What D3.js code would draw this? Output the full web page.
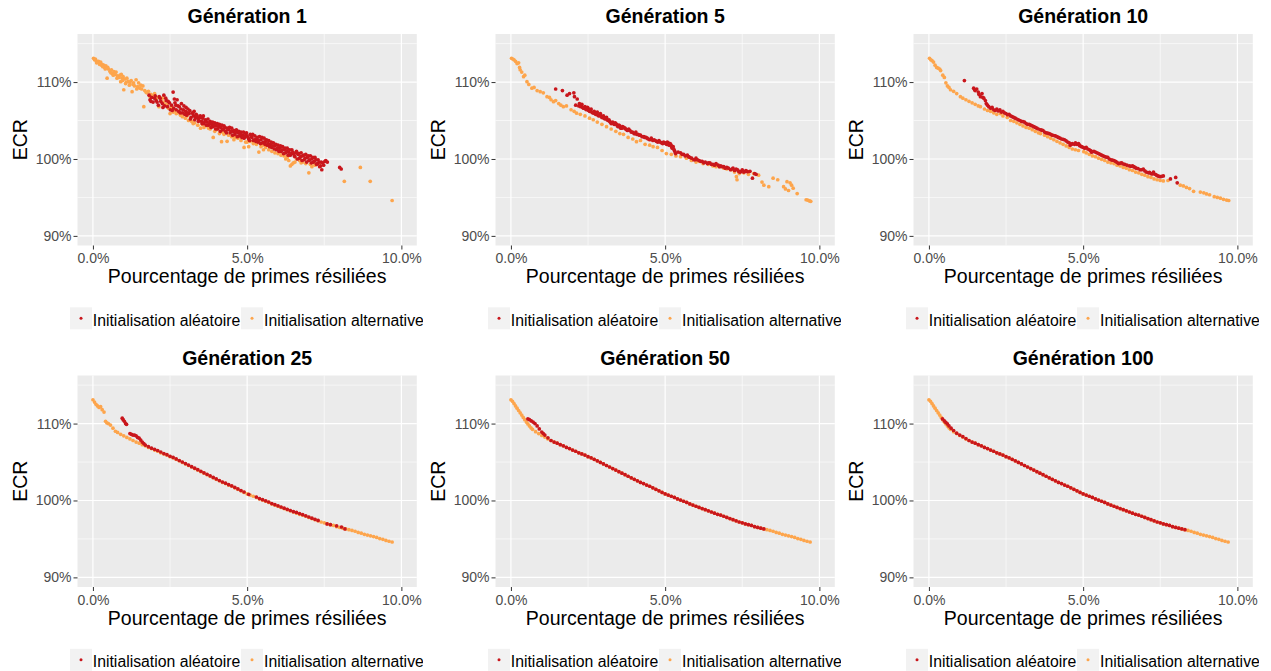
<!DOCTYPE html>
<html><head><meta charset="utf-8">
<script src="https://cdn.jsdelivr.net/npm/d3@7"></script>
<style>
body{margin:0;background:#fff;}
svg text{font-family:"Liberation Sans",Arial,Helvetica,sans-serif;}
</style>
</head><body>
<svg id="chart" width="1271" height="671"></svg>
<script>
// ---------- labels ----------
const panelTitles = ["Génération 1","Génération 5","Génération 10","Génération 25","Génération 50","Génération 100"];
const seriesNames = ["Initialisation aléatoire","Initialisation alternative"];
const xTitle = "Pourcentage de primes résiliées";
const yTitle = "ECR";
const xTicks = [0,5,10];
const yTicks = [90,100,110];
const xMinorTicks = [2.5,7.5];
const yMinorTicks = [95,105,115];
const xLimits = [0,10];
const yLimits = [90,115];

// ---------- data: [% primes résiliées, ECR %] ----------
const gen1Random = [[1.82,108.3],[1.85,107.7],[1.9,108.0],[1.95,107.4],[2.0,107.9],[2.05,107.6],[2.08,107.4],[2.12,107.0],[2.15,108.1],[2.2,107.5],[2.25,107.2],[2.3,108.3],[2.32,106.9],[2.38,107.6],[2.42,106.8],[2.48,107.3],[2.51,106.4],[2.55,107.0],[2.6,108.7],[2.62,106.6],[2.66,107.3],[2.7,106.4],[2.73,107.7],[2.78,106.2],[2.8,106.8],[2.85,106.5],[2.9,106.0],[2.95,106.9],[3.0,106.2],[3.04,105.7],[3.08,106.5],[3.12,105.9],[3.18,105.4],[3.22,106.0],[3.26,105.6],[3.3,105.1],[3.35,105.8],[3.4,105.3],[3.44,105.0],[3.48,105.6],[3.52,104.9],[3.56,105.3],[3.6,104.6],[3.65,105.1],[3.7,104.8],[3.75,104.4],[3.8,104.9],[3.85,104.5],[3.9,104.2],[3.95,104.7],[4.0,104.3],[4.05,103.9],[4.1,104.5],[4.15,104.1],[4.2,103.8],[4.25,104.3],[4.3,103.6],[4.35,104.0],[4.4,103.8],[4.45,103.4],[4.5,104.0],[4.55,103.6],[4.6,103.2],[4.65,103.8],[4.7,103.4],[4.75,103.0],[4.8,103.5],[4.85,103.1],[4.9,102.7],[4.95,103.3],[5.0,103.0],[5.05,102.6],[5.1,103.2],[5.15,102.8],[5.2,102.4],[5.25,103.0],[5.3,102.6],[5.35,102.2],[5.4,102.9],[5.45,102.5],[5.5,102.1],[5.55,102.7],[5.6,102.3],[5.65,101.8],[5.7,102.4],[5.75,101.9],[5.8,101.5],[5.85,102.1],[5.9,101.7],[5.95,101.2],[6.0,101.8],[6.05,101.4],[6.1,101.0],[6.15,101.6],[6.2,101.2],[6.25,100.8],[6.3,101.4],[6.35,100.9],[6.4,100.5],[6.45,101.2],[6.5,100.7],[6.55,100.3],[6.6,101.0],[6.65,100.6],[6.7,100.1],[6.75,100.8],[6.8,100.4],[6.85,99.9],[6.9,100.6],[6.95,100.2],[7.0,99.8],[7.05,100.4],[7.1,100.0],[7.15,99.6],[7.2,100.2],[7.25,99.3],[7.3,99.9],[7.35,99.0],[7.4,99.6],[7.42,98.6],[7.48,99.2],[7.55,99.8],[7.6,99.6],[8.0,98.9],[8.05,98.7],
  [1.88,107.5],[2.02,108.2],[2.18,107.9],[2.27,106.7],[2.36,107.9],[2.44,107.5],[2.57,106.3],[2.64,107.8],[2.69,107.0],[2.76,106.9],[2.83,106.0],[2.87,107.2],[2.93,106.4],[2.98,105.8],[3.02,106.7],[3.07,106.0],[3.14,106.3],[3.16,105.2],[3.24,105.9],[3.28,106.2],[3.33,105.4],[3.38,105.6],[3.42,104.9],[3.47,105.4],[3.54,104.6],[3.58,105.6],[3.63,104.9],[3.68,104.4],[3.73,105.2],[3.78,104.6],[3.83,104.1],[3.88,104.8],[3.93,104.4],[3.98,103.9],[4.03,104.6],[4.08,104.2],[4.13,103.6],[4.18,104.4],[4.23,103.9],[4.28,104.1],[4.33,103.4],[4.38,103.9],[4.43,104.1],[4.48,103.6],[4.53,103.1],[4.58,103.7],[4.63,103.5],[4.68,102.9],[4.73,103.6],[4.78,103.2],[4.83,102.8],[4.88,103.5],[4.93,102.9],[4.98,103.4],[5.03,102.8],[5.08,102.4],[5.13,103.0],[5.18,103.2],[5.23,102.5],[5.28,102.3],[5.33,102.8],[5.38,102.4],[5.43,102.0],[5.48,102.8],[5.53,102.2],[5.58,101.9],[5.63,102.5],[5.68,102.0],[5.73,101.6],[5.78,102.2],[5.83,101.7],[5.88,101.3],[5.93,101.9],[5.98,101.4],[6.03,101.0],[6.08,101.7],[6.13,101.2],[6.18,100.7],[6.23,101.4],[6.28,101.0],[6.33,100.5],[6.38,101.2],[6.43,100.7],[6.48,100.9],[6.53,100.4],[6.58,100.8],[6.63,100.0],[6.68,100.7],[6.73,100.3],[6.78,99.8],[6.83,100.5],[6.88,100.1],[6.93,99.6],[6.98,100.4],[7.03,99.9],[7.08,99.5],[7.13,100.2],[7.18,99.7],[7.23,99.9],[7.28,99.4],[7.33,99.6],[7.38,99.1],[7.45,99.5],[7.52,99.7]];
const gen1Alternative = [[0.02,113.1],[0.05,112.9],[0.08,113.0],[0.1,112.8],[0.14,112.6],[0.18,112.7],[0.2,112.5],[0.25,112.6],[0.28,112.2],[0.3,112.3],[0.35,112.2],[0.38,111.9],[0.42,112.1],[0.46,110.5],[0.5,111.7],[0.55,111.4],[0.6,111.6],[0.63,111.1],[0.68,111.35],[0.72,111.0],[0.75,111.3],[0.8,110.8],[0.85,110.6],[0.9,110.05],[0.92,111.0],[0.95,110.5],[0.98,110.7],[1.0,109.0],[1.03,110.4],[1.06,109.8],[1.1,110.5],[1.15,110.1],[1.2,109.9],[1.24,110.2],[1.27,108.75],[1.3,109.7],[1.35,109.5],[1.4,110.3],[1.45,109.4],[1.48,109.9],[1.52,109.2],[1.58,109.1],[1.62,109.5],[1.65,106.8],[1.68,108.9],[1.75,108.6],[1.8,108.8],[1.88,108.4],[1.95,108.2],[2.0,108.5],[2.05,107.9],[2.1,108.0],[2.14,106.8],[2.2,107.7],[2.25,107.9],[2.3,107.4],[2.4,107.1],[2.45,106.6],[2.5,105.9],[2.55,106.7],[2.6,106.1],[2.65,106.3],[2.75,106.0],[2.84,105.7],[2.9,105.5],[3.0,105.3],[3.1,105.0],[3.2,104.9],[3.3,104.7],[3.4,104.4],[3.49,104.0],[3.55,104.5],[3.6,104.1],[3.7,104.3],[3.8,103.9],[3.9,102.8],[3.95,103.6],[4.0,103.8],[4.1,103.3],[4.17,102.25],[4.2,103.5],[4.35,102.3],[4.4,103.1],[4.5,102.9],[4.57,102.5],[4.7,102.7],[4.8,102.4],[4.9,101.5],[4.95,102.2],[5.05,101.6],[5.1,102.3],[5.2,102.0],[5.3,101.9],[5.38,100.9],[5.45,101.6],[5.53,101.2],[5.6,101.5],[5.7,101.2],[5.8,101.0],[5.9,100.8],[6.0,100.7],[6.1,100.5],[6.2,100.4],[6.3,100.2],[6.4,99.1],[6.45,99.3],[6.5,99.5],[6.55,99.6],[6.6,100.0],[6.7,99.8],[6.8,99.6],[6.9,99.4],[7.0,98.2],[7.05,99.3],[7.15,99.5],[7.2,99.2],[7.35,99.4],[8.15,97.1],[8.67,98.9],[8.99,97.1],[9.7,94.6],
  [0.12,112.5],[0.22,112.3],[0.32,112.0],[0.4,111.7],[0.48,111.9],[0.58,111.2],[0.66,110.9],[0.78,110.5],[0.88,110.9],[0.96,110.2],[1.08,110.0],[1.18,109.6],[1.32,109.9],[1.42,109.1],[1.55,109.6],[1.72,108.7],[1.85,108.1],[2.35,107.0],[2.7,105.9],[3.05,105.6],[3.25,104.6],[3.75,104.0],[4.25,103.2],[4.6,102.8],[5.0,102.2],[5.5,101.8],[6.05,100.9],[6.25,100.0],[6.35,99.8],[6.75,99.5],[7.1,99.0]];

const gen5Random = [[1.45,109.1],[1.67,108.9],[1.82,108.3],[1.9,108.5],[2.04,108.6],[2.06,108.1],[2.1,107.0],[2.15,107.8],[2.2,106.9],[2.26,106.8],[2.3,107.1],[2.35,106.6],[2.4,106.8],[2.45,106.4],[2.5,106.6],[2.55,106.2],[2.6,106.5],[2.65,106.0],[2.7,106.2],[2.75,105.8],[2.8,106.1],[2.85,105.6],[2.9,105.9],[2.95,105.4],[3.0,105.6],[3.05,105.2],[3.1,105.4],[3.15,105.0],[3.2,104.9],[3.25,104.6],[3.3,104.8],[3.35,104.5],[3.4,104.6],[3.45,104.3],[3.5,104.4],[3.56,104.0],[3.62,104.2],[3.7,104.0],[3.75,103.8],[3.82,103.9],[3.9,103.5],[3.99,103.3],[4.05,103.5],[4.12,103.2],[4.2,103.1],[4.31,102.9],[4.38,102.8],[4.45,102.6],[4.55,102.7],[4.64,102.5],[4.72,102.3],[4.8,102.4],[4.88,102.1],[4.95,102.2],[5.0,102.1],[5.05,101.9],[5.07,102.2],[5.1,102.1],[5.13,101.8],[5.16,102.0],[5.2,101.7],[5.23,101.4],[5.26,101.6],[5.3,101.1],[5.34,100.7],[5.5,100.8],[5.6,100.6],[5.72,100.5],[5.8,100.2],[5.93,99.9],[6.0,100.1],[6.1,99.8],[6.2,99.7],[6.3,99.6],[6.37,99.4],[6.45,99.5],[6.55,99.3],[6.65,99.4],[6.72,99.2],[6.8,99.1],[6.9,99.0],[7.0,98.9],[7.12,98.6],[7.2,98.8],[7.3,98.7],[7.38,98.4],[7.45,98.35],[7.5,98.6],[7.6,98.4],[7.67,98.35],[7.83,97.5],[7.9,98.1],
  [2.22,107.2],[2.28,106.9],[2.33,106.7],[2.42,106.5],[2.48,106.7],[2.52,106.3],[2.58,106.4],[2.62,106.1],[2.68,106.0],[2.72,105.9],[2.78,105.95],[2.82,105.7],[2.88,105.7],[2.92,105.6],[2.98,105.4],[3.02,105.3],[3.08,105.3],[3.12,105.1],[3.18,105.1],[3.22,104.8],[3.28,104.7],[3.32,104.6],[3.38,104.7],[3.42,104.5],[3.48,104.2],[3.53,104.3],[3.6,104.0],[3.66,104.1],[3.72,103.9],[3.78,103.7],[3.86,103.7],[3.94,103.5],[4.02,103.3],[4.08,103.2],[4.16,103.1],[4.25,102.9],[4.34,102.8],[4.42,102.7],[4.5,102.5],[4.6,102.4],[4.68,102.4],[4.76,102.2],[4.84,102.2],[4.92,102.0],[5.02,102.0],[5.09,101.9],[5.18,101.9],[5.21,101.6],[5.28,101.3],[5.32,100.9],[5.42,100.9],[5.55,100.6],[5.65,100.4],[5.76,100.3],[5.86,100.1],[5.97,99.9],[6.05,99.9],[6.15,99.7],[6.25,99.5],[6.4,99.5],[6.5,99.3],[6.6,99.2],[6.76,99.0],[6.85,99.0],[6.95,98.8],[7.05,98.8],[7.16,98.7],[7.25,98.5],[7.35,98.6],[7.42,98.3],[7.55,98.3],[7.62,98.5],[7.75,98.4],[7.95,98.0]];
const gen5Alternative = [[0.02,113.1],[0.06,113.0],[0.1,112.9],[0.15,112.7],[0.2,112.4],[0.25,112.5],[0.28,111.9],[0.3,111.6],[0.35,111.3],[0.41,110.7],[0.45,110.9],[0.52,110.05],[0.58,109.7],[0.68,109.2],[0.75,109.3],[0.85,108.9],[0.95,108.75],[1.05,108.6],[1.17,108.1],[1.25,108.0],[1.3,107.7],[1.38,107.45],[1.45,107.6],[1.55,107.2],[1.62,107.0],[1.7,106.8],[1.8,106.9],[1.95,106.4],[2.05,106.2],[2.13,105.95],[2.25,105.8],[2.4,105.6],[2.55,105.3],[2.67,105.1],[2.8,104.8],[2.95,104.5],[3.1,104.2],[3.25,103.9],[3.4,103.6],[3.53,103.3],[3.65,103.2],[3.8,102.8],[3.95,102.6],[4.07,102.25],[4.2,102.4],[4.35,101.9],[4.5,101.8],[4.61,101.6],[4.75,101.5],[4.9,101.1],[5.04,100.7],[5.2,100.6],[5.35,100.4],[5.5,100.3],[5.69,100.1],[5.85,99.8],[6.0,99.6],[6.1,99.7],[6.23,99.4],[6.4,99.3],[6.55,99.1],[6.65,99.0],[6.77,99.0],[6.9,98.8],[7.0,98.7],[7.15,98.6],[7.25,98.3],[7.31,97.7],[7.33,97.3],[7.4,98.1],[7.55,98.2],[7.7,98.0],[7.87,98.1],[8.03,97.9],[8.14,97.0],[8.2,96.6],[8.36,96.4],[8.5,97.5],[8.65,97.3],[8.84,96.4],[8.9,96.1],[8.95,97.05],[9.0,95.9],[9.05,96.9],[9.1,96.6],[9.15,96.2],[9.28,95.5],[9.57,94.7],[9.62,94.65],[9.68,94.55],[9.72,94.5]];

const gen10Random = [[1.15,110.2],[1.45,109.2],[1.48,109.0],[1.5,108.9],[1.55,109.1],[1.6,108.7],[1.62,108.4],[1.67,108.1],[1.72,108.5],[1.75,108.0],[1.78,107.9],[1.83,107.6],[1.86,107.2],[1.9,107.0],[1.94,106.8],[2.0,106.6],[2.05,106.7],[2.1,106.4],[2.2,106.5],[2.3,106.4],[2.4,106.2],[2.5,105.9],[2.6,105.8],[2.7,105.5],[2.8,105.3],[2.9,105.1],[3.0,104.9],[3.1,104.8],[3.2,104.5],[3.3,104.4],[3.4,104.2],[3.5,104.0],[3.62,103.8],[3.7,103.7],[3.8,103.4],[3.9,103.3],[4.0,103.1],[4.1,103.0],[4.2,102.8],[4.3,102.6],[4.4,102.5],[4.5,102.2],[4.58,101.8],[4.65,102.0],[4.8,101.9],[4.85,102.0],[4.9,101.7],[4.95,101.6],[5.05,101.4],[5.1,101.5],[5.2,101.2],[5.27,100.9],[5.35,101.0],[5.45,100.8],[5.55,100.6],[5.7,100.3],[5.8,100.2],[5.9,99.9],[6.0,99.8],[6.15,99.4],[6.25,99.5],[6.35,99.3],[6.5,99.1],[6.64,99.0],[6.72,98.8],[6.85,98.6],[6.95,98.7],[7.05,98.3],[7.12,98.2],[7.2,98.1],[7.28,98.3],[7.34,98.0],[7.42,97.8],[7.5,97.7],[7.6,97.8],[7.83,97.4],[8.0,97.6],[8.05,96.9],
  [2.15,106.3],[2.25,106.25],[2.35,106.1],[2.45,106.0],[2.55,105.75],[2.65,105.6],[2.75,105.4],[2.85,105.2],[2.95,105.0],[3.05,104.85],[3.15,104.6],[3.25,104.5],[3.35,104.3],[3.45,104.1],[3.55,103.9],[3.66,103.75],[3.75,103.5],[3.85,103.35],[3.95,103.2],[4.05,103.05],[4.15,102.9],[4.25,102.7],[4.35,102.55],[4.45,102.35],[4.55,102.1],[4.62,101.9],[4.72,101.9],[4.75,102.1],[4.88,101.8],[5.0,101.5],[5.15,101.3],[5.24,101.1],[5.3,100.95],[5.4,100.9],[5.5,100.7],[5.6,100.5],[5.65,100.4],[5.75,100.25],[5.85,100.0],[5.95,99.85],[6.05,99.7],[6.1,99.55],[6.2,99.45],[6.3,99.35],[6.42,99.2],[6.55,99.05],[6.6,99.1],[6.68,98.9],[6.78,98.75],[6.9,98.6],[7.0,98.45],[7.15,98.25],[7.25,98.05],[7.38,97.9],[7.46,97.75],[7.55,97.75]];
const gen10Alternative = [[0.02,113.1],[0.06,112.9],[0.1,112.8],[0.15,112.6],[0.2,112.2],[0.25,111.9],[0.3,111.8],[0.35,111.7],[0.38,111.5],[0.45,110.9],[0.5,110.6],[0.55,109.9],[0.6,109.5],[0.65,109.3],[0.7,109.0],[0.8,108.8],[0.9,108.5],[1.02,108.1],[1.1,107.9],[1.2,107.7],[1.3,107.5],[1.4,107.3],[1.5,107.1],[1.6,106.9],[1.67,106.8],[1.8,106.5],[1.9,106.3],[2.0,106.2],[2.1,106.0],[2.2,105.8],[2.32,105.9],[2.4,105.6],[2.54,105.4],[2.65,105.0],[2.75,104.9],[2.85,104.7],[2.95,104.5],[3.05,104.3],[3.15,104.1],[3.25,104.0],[3.35,103.8],[3.45,103.6],[3.55,103.4],[3.62,103.3],[3.75,103.1],[3.85,102.9],[3.95,102.7],[4.05,102.5],[4.15,102.3],[4.25,102.1],[4.35,101.9],[4.45,101.7],[4.55,101.5],[4.65,101.3],[4.75,101.2],[4.85,101.1],[5.02,100.95],[5.1,100.8],[5.2,100.6],[5.3,100.4],[5.4,100.3],[5.5,100.1],[5.6,99.95],[5.7,99.8],[5.8,99.6],[5.9,99.5],[6.0,99.4],[6.1,99.2],[6.2,99.1],[6.3,98.9],[6.4,98.8],[6.5,98.6],[6.6,98.5],[6.7,98.3],[6.8,98.2],[6.9,98.0],[7.0,97.9],[7.1,97.7],[7.2,97.6],[7.3,97.4],[7.4,97.3],[7.5,97.2],[7.6,97.15],[7.75,97.2],[8.15,96.6],[8.25,96.5],[8.35,96.3],[8.45,96.15],[8.58,95.8],[8.8,95.7],[8.91,95.6],[9.0,95.45],[9.1,95.35],[9.25,95.1],[9.35,95.0],[9.45,94.9],[9.55,94.75],[9.65,94.65],[9.72,94.6]];

const gen25Random = [[0.95,110.7],[0.98,110.5],[1.02,110.3],[1.06,110.0],[1.09,109.9],[1.2,108.7],[1.25,108.6],[1.3,108.5],[1.35,108.5],[1.4,108.4],[1.45,108.2],[1.5,108.1],[1.55,107.85],[1.6,107.6],[1.65,107.4],[1.7,107.2],[1.8,107.0],[1.9,106.8],[2.0,106.65],[2.1,106.5],[2.2,106.3],[2.3,106.1],[2.4,105.95],[2.5,105.75],[2.6,105.6],[2.7,105.4],[2.8,105.2],[2.9,105.0],[3.0,104.8],[3.1,104.6],[3.2,104.4],[3.3,104.2],[3.4,104.0],[3.5,103.8],[3.6,103.6],[3.7,103.4],[3.8,103.2],[3.9,103.0],[4.0,102.8],[4.1,102.6],[4.2,102.4],[4.3,102.25],[4.4,102.05],[4.5,101.9],[4.6,101.7],[4.7,101.5],[4.8,101.3],[4.9,101.1],[5.05,100.8],[5.3,100.45],[5.4,100.25],[5.5,100.1],[5.6,99.95],[5.7,99.8],[5.8,99.6],[5.9,99.45],[6.0,99.3],[6.1,99.15],[6.2,99.0],[6.3,98.85],[6.4,98.7],[6.5,98.55],[6.6,98.45],[6.7,98.3],[6.8,98.15],[6.9,98.0],[7.0,97.85],[7.1,97.7],[7.2,97.55],[7.3,97.4],[7.59,96.95],[7.7,96.85],[7.9,96.7],[8.06,96.55],[8.17,96.3]];
const gen25AlternativeStart = [[0,113.1],[0.05,112.8],[0.1,112.5],[0.15,112.3],[0.2,112.1],[0.25,112.2],[0.3,111.8],[0.36,111.5],[0.41,110.3],[0.45,110.1],[0.5,110.0],[0.57,109.8],[0.65,109.4],[0.73,109.0],[0.8,108.85],[0.9,108.6],[1.0,108.4],[1.1,108.2],[1.2,108.0]];

// converged front shared by late generations (x >= 1.3)
const convergedFront = [[1.3,107.8],[1.4,107.6],[1.5,107.45],[1.6,107.25],[1.7,107.1],[1.8,106.9],[1.9,106.75],[2.0,106.55],[2.1,106.4],[2.2,106.2],[2.3,106.05],[2.4,105.9],[2.5,105.7],[2.6,105.55],[2.7,105.35],[2.8,105.15],[2.9,104.95],[3.0,104.75],[3.1,104.55],[3.2,104.35],[3.3,104.15],[3.4,103.95],[3.5,103.75],[3.6,103.55],[3.7,103.35],[3.8,103.15],[3.9,102.95],[4.0,102.75],[4.1,102.55],[4.2,102.35],[4.3,102.2],[4.4,102.0],[4.5,101.85],[4.6,101.65],[4.7,101.45],[4.8,101.25],[4.9,101.05],[5.0,100.85],[5.1,100.7],[5.2,100.55],[5.3,100.4],[5.4,100.2],[5.5,100.05],[5.6,99.9],[5.7,99.75],[5.8,99.55],[5.9,99.4],[6.0,99.25],[6.1,99.1],[6.2,98.95],[6.3,98.8],[6.4,98.65],[6.5,98.5],[6.6,98.35],[6.7,98.2],[6.8,98.1],[6.9,97.95],[7.0,97.8],[7.1,97.65],[7.2,97.5],[7.3,97.35],[7.4,97.2],[7.5,97.1],[7.6,96.95],[7.7,96.85],[7.8,96.75],[7.9,96.6],[8.0,96.5],[8.1,96.4],[8.2,96.3],[8.3,96.2],[8.4,96.1],[8.5,96.0],[8.6,95.85],[8.7,95.75],[8.8,95.6],[8.9,95.5],[9.0,95.4],[9.1,95.3],[9.2,95.2],[9.3,95.05],[9.4,94.95],[9.5,94.8],[9.6,94.7],[9.7,94.6]];
const lateAlternativeStart = [[0,113.1],[0.05,112.9],[0.1,112.6],[0.15,112.3],[0.2,112.0],[0.25,111.7],[0.3,111.4],[0.35,111.1],[0.4,110.8],[0.45,110.5],[0.5,110.2],[0.55,109.95],[0.6,109.7],[0.65,109.45],[0.7,109.25],[0.8,108.95],[0.9,108.7],[1.0,108.45],[1.1,108.25],[1.2,108.0]];
const gen50RandomStart = [[0.55,110.6],[0.6,110.5],[0.66,110.35],[0.72,110.2],[0.78,110.0],[0.85,109.7],[0.92,109.3],[1.0,108.9],[1.05,108.7],[1.1,108.5],[1.2,108.15]];
const gen50RandomEnd = 8.25;
const gen100RandomStart = [[0.44,110.6],[0.5,110.35],[0.55,110.15],[0.6,109.95],[0.65,109.7],[0.72,109.4],[0.8,109.1],[0.9,108.75],[1.0,108.5],[1.1,108.3],[1.2,108.05]];
const gen100RandomEnd = 8.3;

// ---------- assemble panels ----------
const panels = [
  {title: panelTitles[0], random: gen1Random, alternative: gen1Alternative},
  {title: panelTitles[1], random: gen5Random, alternative: gen5Alternative},
  {title: panelTitles[2], random: gen10Random, alternative: gen10Alternative},
  {title: panelTitles[3], random: gen25Random, alternative: gen25AlternativeStart.concat(convergedFront)},
  {title: panelTitles[4], random: gen50RandomStart.concat(convergedFront.filter(d => d[0] <= gen50RandomEnd)), alternative: lateAlternativeStart.concat(convergedFront)},
  {title: panelTitles[5], random: gen100RandomStart.concat(convergedFront.filter(d => d[0] <= gen100RandomEnd)), alternative: lateAlternativeStart.concat(convergedFront)}
];

// ---------- styles / layout ----------
const COLORS = {random: "#c9161c", alternative: "#fda54c"};
const PANEL_DX = 418, PANEL_DY = 341.5;
const P = {left: 77.5, right: 416.8, top: 34, bottom: 245.5};
const pad = (a, b) => [a - (b - a) * 0.05, b + (b - a) * 0.05];
const R = 1.85;

const svg = d3.select("#chart");
svg.append("defs").append("clipPath").attr("id", "legendClip")
  .append("rect").attr("x", 0).attr("y", 290).attr("width", 423).attr("height", 50);

panels.forEach((p, i) => {
  const col = i % 3, row = Math.floor(i / 3);
  const g = svg.append("g").attr("transform", `translate(${col * PANEL_DX},${row * PANEL_DY})`);
  const x = d3.scaleLinear().domain(pad(...xLimits)).range([P.left, P.right]);
  const y = d3.scaleLinear().domain(pad(...yLimits)).range([P.bottom, P.top]);

  g.append("rect").attr("x", P.left).attr("y", P.top)
    .attr("width", P.right - P.left).attr("height", P.bottom - P.top).attr("fill", "#EBEBEB");

  g.selectAll(".gxm").data(xMinorTicks).join("line")
    .attr("x1", d => x(d)).attr("x2", d => x(d)).attr("y1", P.top).attr("y2", P.bottom)
    .attr("stroke", "#fff").attr("stroke-width", 0.6);
  g.selectAll(".gym").data(yMinorTicks).join("line")
    .attr("y1", d => y(d)).attr("y2", d => y(d)).attr("x1", P.left).attr("x2", P.right)
    .attr("stroke", "#fff").attr("stroke-width", 0.6);
  g.selectAll(".gx").data(xTicks).join("line")
    .attr("x1", d => x(d)).attr("x2", d => x(d)).attr("y1", P.top).attr("y2", P.bottom)
    .attr("stroke", "#fff").attr("stroke-width", 1.2);
  g.selectAll(".gy").data(yTicks).join("line")
    .attr("y1", d => y(d)).attr("y2", d => y(d)).attr("x1", P.left).attr("x2", P.right)
    .attr("stroke", "#fff").attr("stroke-width", 1.2);

  g.append("g").selectAll("circle").data(p.alternative).join("circle")
    .attr("cx", d => x(d[0])).attr("cy", d => y(d[1])).attr("r", R).attr("fill", COLORS.alternative);
  g.append("g").selectAll("circle").data(p.random).join("circle")
    .attr("cx", d => x(d[0])).attr("cy", d => y(d[1])).attr("r", R).attr("fill", COLORS.random);

  const xa = g.append("g").attr("transform", `translate(0,${P.bottom})`)
    .call(d3.axisBottom(x).tickValues(xTicks).tickSize(4).tickPadding(4).tickFormat(d => d.toFixed(1) + "%"));
  const ya = g.append("g").attr("transform", `translate(${P.left},0)`)
    .call(d3.axisLeft(y).tickValues(yTicks).tickSize(4).tickPadding(2).tickFormat(d => d + "%"));
  [xa, ya].forEach(a => {
    a.select(".domain").remove();
    a.selectAll(".tick line").attr("stroke", "#333").attr("stroke-width", 1);
    a.selectAll(".tick text").attr("fill", "#4d4d4d").style("font-size", "14px");
  });

  g.append("text").attr("x", (P.left + P.right) / 2).attr("y", 23.3)
    .attr("text-anchor", "middle").style("font-size", "19.5px").style("font-weight", "bold")
    .attr("fill", "#000").text(p.title);
  g.append("text").attr("x", (P.left + P.right) / 2).attr("y", 283.3)
    .attr("text-anchor", "middle").style("font-size", "19.5px").attr("fill", "#000").text(xTitle);
  g.append("text").attr("transform", `translate(26.5,${(P.top + P.bottom) / 2}) rotate(-90)`)
    .attr("text-anchor", "middle").style("font-size", "19.5px").attr("fill", "#000").text(yTitle);

  const lg = g.append("g").attr("clip-path", "url(#legendClip)");
  const keys = [
    {name: seriesNames[0], color: COLORS.random, kx: 70, tx: 92.8},
    {name: seriesNames[1], color: COLORS.alternative, kx: 241, tx: 264}
  ];
  keys.forEach(k => {
    lg.append("rect").attr("x", k.kx).attr("y", 307.3).attr("width", 22).attr("height", 22).attr("fill", "#F2F2F2");
    lg.append("circle").attr("cx", k.kx + 11).attr("cy", 318.3).attr("r", 1.5).attr("fill", k.color);
    lg.append("text").attr("x", k.tx).attr("y", 325.5).style("font-size", "15.8px").attr("fill", "#000").text(k.name);
  });
});
</script>
</body></html>
